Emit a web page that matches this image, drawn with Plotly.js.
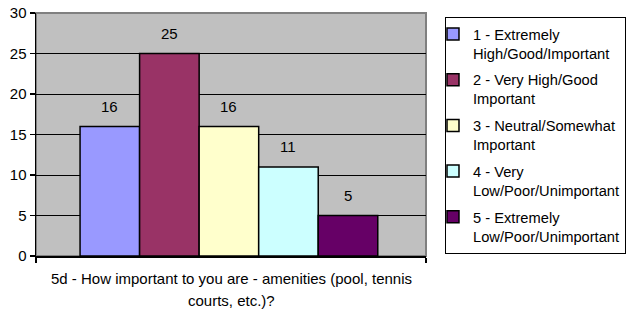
<!DOCTYPE html>
<html>
<head>
<meta charset="utf-8">
<script src="https://cdn.plot.ly/plotly-3.0.1.min.js"></script>
<style>html,body{margin:0;padding:0;background:#fff;}#chart{width:626px;height:312px;}</style>
</head>
<body>
<div id="chart"></div>
<script>
const seriesNames = [
  "1 - Extremely<br>High/Good/Important",
  "2 - Very High/Good<br>Important",
  "3 - Neutral/Somewhat<br>Important",
  "4 - Very<br>Low/Poor/Unimportant",
  "5 - Extremely<br>Low/Poor/Unimportant"
];
const seriesValues = [16, 25, 16, 11, 5];
const seriesColors = ["#9999FF", "#993366", "#FFFFCC", "#CCFFFF", "#660066"];
const categoryLine1 = "5d - How important to you are - amenities (pool, tennis";
const categoryLine2 = "courts, etc.)?";
const yTicks = [0, 5, 10, 15, 20, 25, 30];

const FONT = "Liberation Sans, Arial, sans-serif";
const xRange = [-0.24, 6.31];

const traces = seriesNames.map((name, i) => ({
  type: "bar",
  name: name,
  legendgroup: "g" + i,
  x: [i + 1],
  y: [seriesValues[i]],
  width: 1,
  marker: { color: seriesColors[i], line: { color: "#000", width: 1.5 } },
  hoverinfo: "skip"
}));

const annotations = seriesValues.map((v, i) => ({
  x: i + 1, y: v, xref: "x", yref: "y",
  text: String(v), showarrow: false,
  yanchor: "middle", yshift: 20,
  font: { family: FONT, size: 15, color: "#000" }
}));
annotations.push({
  x: 0.5, y: 0, xref: "paper", yref: "paper", text: categoryLine1,
  showarrow: false, yanchor: "middle", yshift: -22,
  font: { family: FONT, size: 15, color: "#000" }
});
annotations.push({
  x: 0.5, y: 0, xref: "paper", yref: "paper", text: categoryLine2,
  showarrow: false, yanchor: "middle", yshift: -44,
  font: { family: FONT, size: 15, color: "#000" }
});

const layout = {
  width: 626, height: 312,
  margin: { l: 36, r: 200, t: 13, b: 56, autoexpand: false },
  paper_bgcolor: "#fff",
  plot_bgcolor: "#C0C0C0",
  barmode: "overlay",
  showlegend: true,
  font: { family: FONT, size: 15, color: "#000" },
  xaxis: {
    range: xRange, showgrid: false, zeroline: false,
    showline: true, linecolor: "#000", linewidth: 1.5,
    tickmode: "array", tickvals: xRange, ticktext: ["", ""],
    ticks: "outside", ticklen: 5, tickcolor: "#000", tickwidth: 1.5,
    showticklabels: false, fixedrange: true
  },
  yaxis: {
    range: [0, 30], tickmode: "array", tickvals: yTicks,
    showgrid: true, gridcolor: "#000", gridwidth: 1,
    zeroline: false, showline: true, linecolor: "#000", linewidth: 1.5,
    ticks: "outside", ticklen: 5, tickcolor: "#000", tickwidth: 1.5,
    tickfont: { family: FONT, size: 15, color: "#000" },
    fixedrange: true
  },
  legend: {
    x: 1.0487, xanchor: "left", y: 0.984, yanchor: "top",
    bordercolor: "#000", borderwidth: 1, bgcolor: "#fff",
    font: { family: FONT, size: 14.7, color: "#000" },
    valign: "top", indentation: -13, tracegroupgap: 4.5
  },
  shapes: [{
    type: "rect", xref: "paper", yref: "paper", x0: 0, x1: 1, y0: 0, y1: 1,
    line: { color: "#808080", width: 2 }, layer: "between"
  }],
  annotations: annotations
};

Plotly.newPlot("chart", traces, layout, { staticPlot: true, displayModeBar: false });
</script>
</body>
</html>
